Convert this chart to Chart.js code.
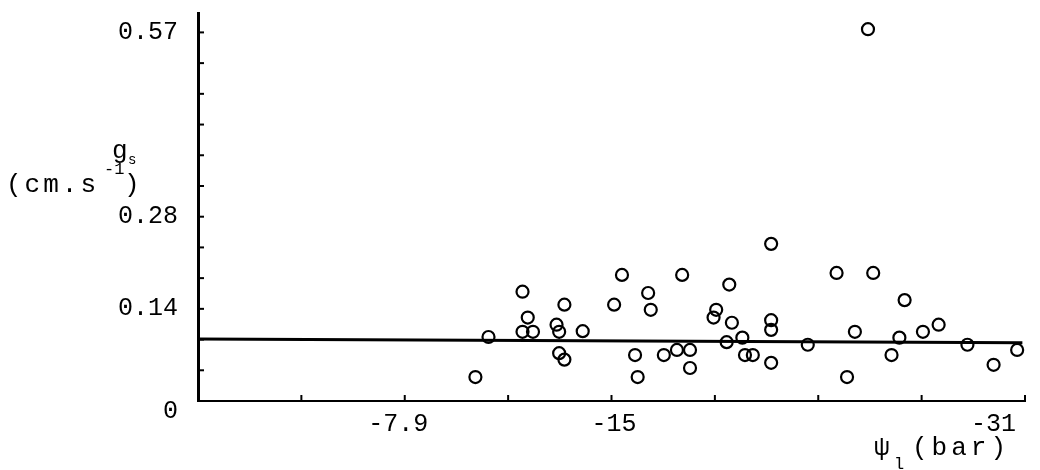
<!DOCTYPE html>
<html><head><meta charset="utf-8">
<script src="https://cdn.jsdelivr.net/npm/chart.js@4.4.0/dist/chart.umd.min.js"></script>
<style>html,body{margin:0;padding:0;background:#fff;}#wrap{width:1040px;height:470px;}</style>
</head><body><div id="wrap"><canvas id="c" width="1040" height="470"></canvas></div>
<script>
// Leaf water potential (bar) and stomatal conductance (cm.s-1)
const psiL = [-10.6,-11.1,-12.4,-12.6,-12.4,-12.8,-13.7,-13.8,-14.0,-14.7,
  -13.8,-14.0,-15.9,-16.2,-16.7,-16.8,-17.2,-17.3,-17.8,-18.3,
  -18.8,-18.8,-18.5,-20.3,-19.8,-19.7,-20.4,-20.2,-20.8,-20.9,
  -21.2,-21.9,-21.9,-21.9,-21.9,-23.3,-24.4,-24.8,-25.1,-25.6,
  -25.8,-26.8,-26.5,-27.0,-27.7,-28.3,-29.4,-30.4,-31.3];
const gs = [0.037,0.099,0.169,0.129,0.107,0.107,0.118,0.107,0.149,0.108,
  0.074,0.064,0.149,0.195,0.071,0.037,0.167,0.141,0.071,0.079,
  0.079,0.051,0.195,0.180,0.141,0.129,0.121,0.091,0.098,0.071,
  0.071,0.125,0.110,0.059,0.243,0.087,0.198,0.037,0.107,0.575,
  0.198,0.098,0.071,0.156,0.107,0.118,0.087,0.056,0.079];
const fitX = [0, -31.5];
const fitY = [0.096, 0.090];

const xTickMarks = [-3.95,-7.9,-11.85,-15.8,-19.75,-23.7,-27.65,-31.6];
const xLabelValues = [-7.65,-15.9,-30.4];
const xLabelTexts = ["-7.9","-15","-31"];
const yTickMarks = [0.0475,0.095,0.1425,0.19,0.2375,0.285,0.3325,0.38,0.4275,0.475,0.5225,0.57];
const yLabelValues = [-0.016,0.1425,0.285,0.57];
const yLabelTexts = ["0","0.14","0.28","0.57"];

const FONT = "Liberation Mono";

const inwardTicks = {
  id:'inwardTicks',
  afterDraw(chart){
    const ctx = chart.ctx, xs = chart.scales.x, ys = chart.scales.y, a = chart.chartArea;
    ctx.save();
    ctx.strokeStyle = '#000'; ctx.lineWidth = 2;
    xTickMarks.forEach(v => { const p = xs.getPixelForValue(v);
      ctx.beginPath(); ctx.moveTo(p, a.bottom); ctx.lineTo(p, a.bottom-6); ctx.stroke(); });
    yTickMarks.forEach(v => { const p = ys.getPixelForValue(v);
      ctx.beginPath(); ctx.moveTo(a.left, p); ctx.lineTo(a.left+6, p); ctx.stroke(); });
    // axis titles
    ctx.fillStyle = '#000'; ctx.textBaseline = 'alphabetic'; ctx.textAlign = 'left';
    ctx.font = `26px "${FONT}"`;
    ctx.fillText('g', 112, 158);
    ctx.font = `14px "${FONT}"`;
    ctx.fillText('s', 128, 164);
    ctx.font = `26px "${FONT}"`;
    ctx.letterSpacing = '3px';
    ctx.fillText('(cm.s', 6, 192);
    ctx.letterSpacing = '0px';
    ctx.font = `17px "${FONT}"`;
    ctx.fillText('-1', 104, 174);
    ctx.font = `26px "${FONT}"`;
    ctx.fillText(')', 124, 192);
    // x title
    ctx.font = `26px "${FONT}"`;
    ctx.fillText('\u03C8', 874, 455);
    ctx.font = `17px "${FONT}"`;
    ctx.fillText('l', 894, 469);
    ctx.font = `26px "${FONT}"`;
    ctx.letterSpacing = '4px';
    ctx.fillText('(bar)', 912, 455);
    ctx.letterSpacing = '0px';
    ctx.restore();
  }
};

new Chart(document.getElementById('c'), {
  type:'scatter',
  data:{ datasets:[
    { data: psiL.map((x,i)=>({x, y: gs[i]})), pointRadius:6, pointBorderWidth:2.2,
      borderColor:'#000', backgroundColor:'rgba(0,0,0,0)', showLine:false },
    { type:'line', data: fitX.map((x,i)=>({x, y: fitY[i]})), borderColor:'#000', borderWidth:3,
      pointRadius:0, fill:false }
  ]},
  options:{
    responsive:false, animation:false,
    layout:{ padding:{ left:0, right:15, top:13, bottom:0 } },
    plugins:{ legend:{display:false}, tooltip:{enabled:false} },
    scales:{
      x:{ type:'linear', min:-31.6, max:0, reverse:true,
        grid:{ display:false }, border:{ display:true, color:'#000', width:2 },
        afterBuildTicks: s => { s.ticks = xLabelValues.map(v => ({value:v})); },
        afterFit: s => { s.height = 69; s.paddingLeft = 0; s.paddingRight = 0; },
        ticks:{ autoSkip:false, maxRotation:0, padding:0, color:'#000',
          font:{ family:FONT, size:25 }, callback:(v,i) => xLabelTexts[i] } },
      y:{ type:'linear', min:0, max:0.6,
        grid:{ display:false }, border:{ display:true, color:'#000', width:3 },
        afterBuildTicks: s => { s.ticks = yLabelValues.map(v => ({value:v})); },
        afterFit: s => { s.width = 198; s.paddingTop = 0; s.paddingBottom = 0; },
        ticks:{ autoSkip:false, padding:12, color:'#000',
          font:{ family:FONT, size:25 }, callback:(v,i) => yLabelTexts[i] } }
    }
  },
  plugins:[inwardTicks]
});
</script></body></html>
